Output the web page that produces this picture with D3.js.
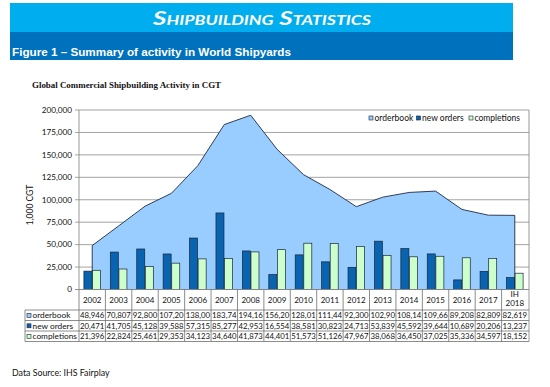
<!DOCTYPE html>
<html><head><meta charset="utf-8">
<script src="https://cdn.jsdelivr.net/npm/d3@7/dist/d3.min.js"></script>
<style>
html,body{margin:0;padding:0;background:#fff;}
svg{display:block;}
</style></head>
<body>
<svg id="c" width="550" height="387"></svg>
<script>
const categories = ["2002","2003","2004","2005","2006","2007","2008","2009","2010","2011","2012","2013","2014","2015","2016","2017","IH 2018"];
const orderbook  = [48946,70807,92800,107200,138000,183740,194160,156200,128010,111440,92300,102900,108140,109660,89208,82809,82619];
const newOrders  = [20471,41705,45128,39588,57315,85277,42953,16554,38581,30823,24713,53839,45592,39644,10689,20206,13237];
const completions= [21396,22824,25461,29353,34123,34640,41873,44401,51573,51126,47967,38068,36450,37025,35336,34597,18152];
const seriesNames = ["orderbook","new orders","completions"];
const yTicks = [0,25000,50000,75000,100000,125000,150000,175000,200000];

const colors = {orderbook:"#99CCFF", newOrders:"#0863B0", completions:"#CCFFCC"};
const svg = d3.select("#c");
const FS = "Lato, 'Open Sans', sans-serif";

// banner
svg.append("rect").attr("x",10).attr("y",3).attr("width",503).attr("height",29).attr("fill","#00AEEF");
svg.append("rect").attr("x",10).attr("y",32).attr("width",503).attr("height",28).attr("fill","#0071BC");
svg.append("text").attr("x",262).attr("y",25).attr("text-anchor","middle")
  .attr("font-family",FS).attr("font-style","italic").attr("font-weight","bold")
  .attr("font-variant","small-caps").attr("font-size",19).attr("fill","#fff")
  .attr("textLength",218).attr("lengthAdjust","spacingAndGlyphs")
  .text("Shipbuilding Statistics");
svg.append("text").attr("x",12).attr("y",55.5)
  .attr("font-family","'Liberation Sans', Arial, sans-serif").attr("font-weight","bold")
  .attr("font-size",10.5).attr("fill","#fff")
  .attr("textLength",279).attr("lengthAdjust","spacingAndGlyphs")
  .text("Figure 1 – Summary of activity in World Shipyards");

// chart title
svg.append("text").attr("x",32).attr("y",88)
  .attr("font-family","'Liberation Serif', 'DejaVu Serif', serif").attr("font-weight","bold")
  .attr("font-size",8.5).attr("fill","#111")
  .attr("textLength",189).attr("lengthAdjust","spacingAndGlyphs")
  .text("Global Commercial Shipbuilding Activity in CGT");

// scales
const x = d3.scaleBand().domain(categories).range([79,528]).padding(0);
const y = d3.scaleLinear().domain([0,200000]).range([289.5,110]);
const cx = c => x(c) + x.bandwidth()/2;

// gridlines
const g = svg.append("g");
g.selectAll("line.grid").data(yTicks).join("line")
  .attr("x1",75).attr("x2",529).attr("y1",d=>y(d)).attr("y2",d=>y(d))
  .attr("stroke","#8c8c8c").attr("stroke-width",0.8);
const fmt = d3.format(",");
g.selectAll("text.yt").data(yTicks).join("text")
  .attr("x",72).attr("y",d=>y(d)+2.8).attr("text-anchor","end")
  .attr("font-family",FS).attr("font-size",8.2).attr("fill","#111")
  .text(d=>fmt(d));
svg.append("text").attr("transform","translate(33,205) rotate(-90)").attr("text-anchor","middle")
  .attr("font-family",FS).attr("font-size",8.5).attr("fill","#111").text("1,000 CGT");

// area
const area = d3.area().x((d,i)=>cx(categories[i])).y0(y(0)).y1(d=>y(d));
svg.append("path").datum(orderbook).attr("d",area)
  .attr("fill",colors.orderbook).attr("stroke","#1d2b45").attr("stroke-width",0.9);

// bars
const bw = 8;
svg.append("g").selectAll("rect").data(newOrders).join("rect")
  .attr("x",(d,i)=>cx(categories[i])-bw-0.3).attr("y",d=>y(d))
  .attr("width",bw).attr("height",d=>y(0)-y(d))
  .attr("fill",colors.newOrders).attr("stroke","#1a2436").attr("stroke-width",0.7);
svg.append("g").selectAll("rect").data(completions).join("rect")
  .attr("x",(d,i)=>cx(categories[i])+0.3).attr("y",d=>y(d))
  .attr("width",bw).attr("height",d=>y(0)-y(d))
  .attr("fill",colors.completions).attr("stroke","#1a2436").attr("stroke-width",0.7);

// axis lines / frame
svg.append("line").attr("x1",79).attr("x2",79).attr("y1",110).attr("y2",289.5).attr("stroke","#8c8c8c").attr("stroke-width",0.9);
svg.append("line").attr("x1",529).attr("x2",529).attr("y1",110).attr("y2",341.5).attr("stroke","#8c8c8c").attr("stroke-width",0.9);
svg.append("line").attr("x1",75).attr("x2",529).attr("y1",289.5).attr("y2",289.5).attr("stroke","#8c8c8c").attr("stroke-width",0.9);

// legend
const legX = [369, 416.5, 469];
const legFill = [colors.orderbook, colors.newOrders, colors.completions];
const leg = svg.append("g");
seriesNames.forEach((s,i)=>{
  leg.append("rect").attr("x",legX[i]).attr("y",116).attr("width",4).attr("height",4)
    .attr("fill",legFill[i]).attr("stroke","#1a2436").attr("stroke-width",0.6);
  leg.append("text").attr("x",legX[i]+5.5).attr("y",121)
    .attr("font-family",FS).attr("font-size",8.5).attr("fill","#111").text(s);
});

// data table
const rowTop = [310, 320.5, 331];
const tableBottom = 341.5;
const tbl = svg.append("g");
x.domain().forEach(c=>{
  tbl.append("line").attr("x1",x(c)).attr("x2",x(c)).attr("y1",289.5).attr("y2",tableBottom)
    .attr("stroke","#6f6f6f").attr("stroke-width",0.8);
});
[310,320.5,331,341.5].forEach(yy=>{
  tbl.append("line").attr("x1",25).attr("x2",529).attr("y1",yy).attr("y2",yy)
    .attr("stroke","#6f6f6f").attr("stroke-width",0.8);
});
tbl.append("line").attr("x1",25).attr("x2",25).attr("y1",310).attr("y2",tableBottom)
  .attr("stroke","#6f6f6f").attr("stroke-width",0.8);
categories.forEach(c=>{
  const parts = c.split(" ");
  if(parts.length===1){
    tbl.append("text").attr("x",cx(c)).attr("y",302.5).attr("text-anchor","middle")
      .attr("font-family",FS).attr("font-size",8).attr("fill","#111").text(c);
  } else {
    parts.forEach((p,j)=>{
      tbl.append("text").attr("x",cx(c)).attr("y",297+j*9).attr("text-anchor","middle")
        .attr("font-family",FS).attr("font-size",8).attr("fill","#111").text(p);
    });
  }
});
const rows = [orderbook,newOrders,completions];
rows.forEach((vals,r)=>{
  tbl.append("rect").attr("x",27).attr("y",rowTop[r]+3.3).attr("width",4).attr("height",4)
    .attr("fill",legFill[r]).attr("stroke","#1a2436").attr("stroke-width",0.6);
  tbl.append("text").attr("x",32.5).attr("y",rowTop[r]+8.2)
    .attr("font-family",FS).attr("font-size",8.3).attr("fill","#111").text(seriesNames[r]);
  vals.forEach((v,i)=>{
    tbl.append("text").attr("x",cx(categories[i])).attr("y",rowTop[r]+8.2).attr("text-anchor","middle")
      .attr("font-family",FS).attr("font-size",7.8).attr("fill","#111")
      .text(fmt(v).slice(0,6));
  });
});

// source
svg.append("text").attr("x",12).attr("y",376)
  .attr("font-family",FS).attr("font-size",8.8).attr("fill","#111").text("Data Source: IHS Fairplay");
</script>
</body></html>
